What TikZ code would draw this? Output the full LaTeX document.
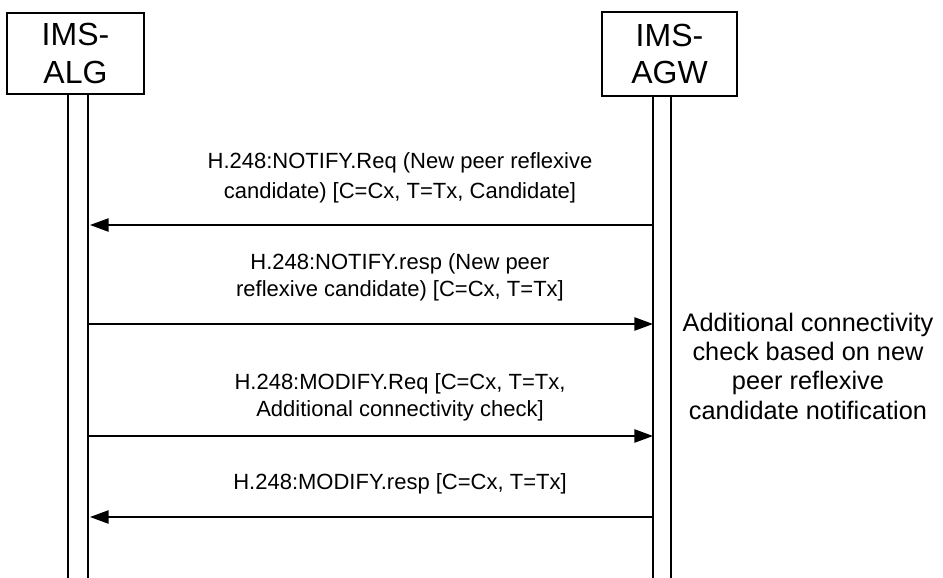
\documentclass[tikz,border=0pt]{standalone}
\usepackage{fontspec}
\setmainfont{Liberation Sans}
\usetikzlibrary{arrows.meta}

\begin{document}
\begin{tikzpicture}[x=0.75pt,y=-0.75pt,
  entity/.style={draw, line width=1pt, align=center, font=\fontsize{24}{28}\selectfont},
  life/.style={line width=1pt},
  msg/.style={line width=1.2pt, -{Triangle[length=14pt,width=10pt]}},
  lbl/.style={align=center, font=\fontsize{16.5}{20.5}\selectfont},
  note/.style={align=center, font=\fontsize{19}{22}\selectfont}]
\useasboundingbox (0,0) rectangle (943,578);

% Entities
\node[entity, minimum width=102.75pt, minimum height=60.75pt] (alg) at (75.5,53.5) {IMS-\\ALG};
\node[entity, minimum width=101.25pt, minimum height=63pt] (agw) at (669.5,54) {IMS-\\AGW};

% Lifelines
\foreach \x in {68,88} {
    \draw[life] (\x,94) -- (\x,578);
}
\foreach \x in {653,671} {
    \draw[life] (\x,96) -- (\x,578);
}

% NOTIFY.Req
\coordinate (agw-a) at (653,225);
\coordinate (alg-a) at (90,225);
\draw[msg] (agw-a) -- (alg-a);
\node[lbl, font=\fontsize{16.5}{22.5}\selectfont] (notify-req) at (400,178) {H.248:NOTIFY.Req (New peer reflexive\\candidate) [C=Cx, T=Tx, Candidate]};

% NOTIFY.resp
\coordinate (alg-b) at (88,324);
\coordinate (agw-b) at (653,324);
\draw[msg] (alg-b) -- (agw-b);
\node[lbl] (notify-resp) at (400,277) {H.248:NOTIFY.resp (New peer\\reflexive candidate) [C=Cx, T=Tx]};

% MODIFY.Req
\coordinate (alg-c) at (88,436);
\coordinate (agw-c) at (653,436);
\draw[msg] (alg-c) -- (agw-c);
\node[lbl] (modify-req) at (400,397) {H.248:MODIFY.Req [C=Cx, T=Tx,\\Additional connectivity check]};

% MODIFY.resp
\coordinate (agw-d) at (653,517);
\coordinate (alg-d) at (90,517);
\draw[msg] (agw-d) -- (alg-d);
\node[lbl] (modify-resp) at (400,484) {H.248:MODIFY.resp [C=Cx, T=Tx]};

% Note at AGW
\node[note] (check) at (808,366) {Additional connectivity\\check based on new\\peer reflexive\\candidate notification};
\end{tikzpicture}
\end{document}
